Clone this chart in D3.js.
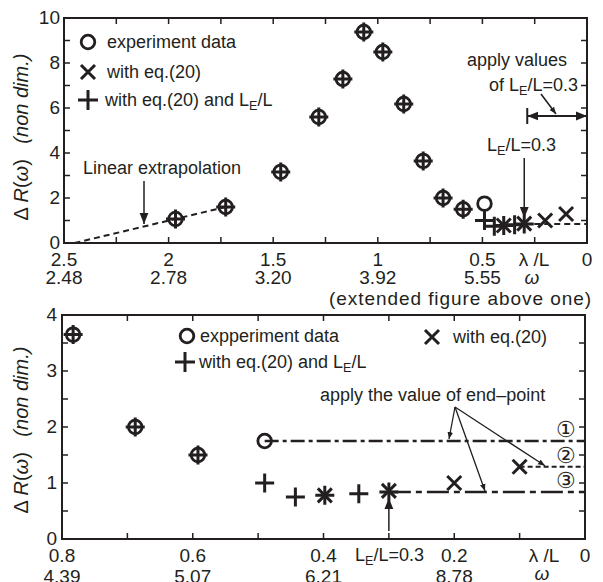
<!DOCTYPE html>
<html>
<head>
<meta charset="utf-8">
<script src="https://cdn.jsdelivr.net/npm/d3@7"></script>
<style>
body { margin: 0; background: #fff; }
svg text { font-family: "Liberation Sans", Arial, sans-serif; fill: #231f20; }
</style>
</head>
<body>
<svg id="chart" width="603" height="582"></svg>
<script>
// experiment data (circles)
var expLambda = [1.967, 1.727, 1.464, 1.282, 1.167, 1.067, 0.976, 0.876, 0.783, 0.688, 0.592, 0.49];
var expDR     = [1.07, 1.6, 3.16, 5.6, 7.29, 9.38, 8.49, 6.18, 3.65, 2.0, 1.5, 1.75];
// with eq.(20) and LE/L (plus)
var plusLambda = [1.967, 1.727, 1.464, 1.282, 1.167, 1.067, 0.976, 0.876, 0.783, 0.688, 0.592, 0.49, 0.443, 0.398, 0.346, 0.30];
var plusDR     = [1.07, 1.6, 3.16, 5.6, 7.29, 9.38, 8.49, 6.18, 3.65, 2.0, 1.5, 1.0, 0.75, 0.78, 0.81, 0.84];
// with eq.(20) (cross)
var crossLambda = [0.398, 0.30, 0.2, 0.1];
var crossDR     = [0.78, 0.86, 1.0, 1.29];
// linear extrapolation
var extrapLambda = [2.45, 1.727];
var extrapDR     = [0, 1.6];
// end-point lines in the lower panel
var endFrom  = [0.49, 0.1, 0.30];
var endValue = [1.75, 1.29, 0.84];
var endLabel = ["\u2460", "\u2461", "\u2462"];

// tick labels
var topLambdaTicks = [2.5, 2, 1.5, 1, 0.5, 0];
var topOmegaLabels = ["2.48", "2.78", "3.20", "3.92", "5.55"];
var botLambdaTicks = [0.8, 0.6, 0.4, 0.2, 0];
var botOmegaLabels = ["4.39", "5.07", "6.21", "8.78"];

var svg = d3.select("#chart");
var ink = "#231f20";

var defs = svg.append("defs");
defs.append("marker")
    .attr("id", "arrow")
    .attr("viewBox", "0 0 10 10")
    .attr("refX", 10).attr("refY", 5)
    .attr("markerWidth", 7).attr("markerHeight", 7)
    .attr("markerUnits", "userSpaceOnUse")
    .attr("orient", "auto-start-reverse")
    .append("path")
    .attr("d", "M0,1 L10,5 L0,9 Z")
    .attr("fill", ink);
defs.append("marker")
    .attr("id", "arrowBig")
    .attr("viewBox", "0 0 10 10")
    .attr("refX", 10).attr("refY", 5)
    .attr("markerWidth", 11).attr("markerHeight", 11)
    .attr("markerUnits", "userSpaceOnUse")
    .attr("orient", "auto-start-reverse")
    .append("path")
    .attr("d", "M0,1 L10,5 L0,9 Z")
    .attr("fill", ink);

function zip(xs, ys) {
    return xs.map(function(d, i) { return [d, ys[i]]; });
}

function drawFrame(g, x, y, xMinor, yMinor) {
    var r = x.range(), h = y.range();
    g.append("rect")
        .attr("x", r[0]).attr("y", h[1])
        .attr("width", r[1] - r[0]).attr("height", h[0] - h[1])
        .attr("fill", "none").attr("stroke", ink).attr("stroke-width", 2);
    var tl = 6;
    xMinor.forEach(function(v) {
        g.append("line").attr("x1", x(v)).attr("x2", x(v)).attr("y1", h[0]).attr("y2", h[0] - tl)
            .attr("stroke", ink).attr("stroke-width", 1.5);
        g.append("line").attr("x1", x(v)).attr("x2", x(v)).attr("y1", h[1]).attr("y2", h[1] + tl)
            .attr("stroke", ink).attr("stroke-width", 1.5);
    });
    yMinor.forEach(function(v) {
        g.append("line").attr("x1", r[0]).attr("x2", r[0] + tl).attr("y1", y(v)).attr("y2", y(v))
            .attr("stroke", ink).attr("stroke-width", 1.5);
        g.append("line").attr("x1", r[1]).attr("x2", r[1] - tl).attr("y1", y(v)).attr("y2", y(v))
            .attr("stroke", ink).attr("stroke-width", 1.5);
    });
}

function drawMarkers(g, x, y, maxLambda) {
    var circ = zip(expLambda, expDR).filter(function(d) { return d[0] <= maxLambda; });
    var plus = zip(plusLambda, plusDR).filter(function(d) { return d[0] <= maxLambda; });
    var cross = zip(crossLambda, crossDR).filter(function(d) { return d[0] <= maxLambda; });

    g.selectAll(".circ").data(circ).enter().append("circle")
        .attr("cx", function(d) { return x(d[0]); })
        .attr("cy", function(d) { return y(d[1]); })
        .attr("r", 6.8)
        .attr("fill", "none").attr("stroke", ink).attr("stroke-width", 2.8);

    g.selectAll(".plus").data(plus).enter().append("path")
        .attr("transform", function(d) { return "translate(" + x(d[0]) + "," + y(d[1]) + ")"; })
        .attr("d", "M-9.5,0H9.5M0,-9.5V9.5")
        .attr("stroke", ink).attr("stroke-width", 3);

    g.selectAll(".cross").data(cross).enter().append("path")
        .attr("transform", function(d) { return "translate(" + x(d[0]) + "," + y(d[1]) + ")"; })
        .attr("d", "M-7,-7L7,7M-7,7L7,-7")
        .attr("stroke", ink).attr("stroke-width", 3);
}

function subText(sel, pre, sub, post, size) {
    sel.append("tspan").text(pre);
    sel.append("tspan").attr("font-size", size * 0.7).attr("dy", 4).text(sub);
    sel.append("tspan").attr("dy", -4).text(post);
}

function yLabel(g, cx, cy, size) {
    var t = g.append("text")
        .attr("transform", "translate(" + cx + "," + cy + ") rotate(-90)")
        .attr("text-anchor", "middle")
        .attr("font-size", size);
    t.append("tspan").text("\u0394 ");
    t.append("tspan").attr("font-style", "italic").text("R");
    t.append("tspan").text("(");
    t.append("tspan").attr("font-style", "italic").text("\u03c9");
    t.append("tspan").text(")\u2002 ");
    t.append("tspan").attr("font-style", "italic").text("(non dim.)");
}

var fs = 18;

// ---------------- top panel ----------------
var xTop = d3.scaleLinear().domain([2.5, 0]).range([64, 587]);
var yTop = d3.scaleLinear().domain([0, 10]).range([243, 18]);
var gTop = svg.append("g");

drawFrame(gTop, xTop, yTop, d3.range(0, 2.5001, 0.25), d3.range(0, 10.001, 1));

gTop.selectAll(".ylab").data([0, 2, 4, 6, 8, 10]).enter().append("text")
    .attr("x", 60).attr("y", function(d) { return yTop(d) + 6; })
    .attr("text-anchor", "end").attr("font-size", fs + 1)
    .text(function(d) { return d; });

gTop.selectAll(".xlab").data(topLambdaTicks).enter().append("text")
    .attr("x", function(d) { return xTop(d); }).attr("y", 266)
    .attr("text-anchor", "middle").attr("font-size", fs + 1)
    .text(function(d) { return d; });
gTop.selectAll(".wlab").data(topOmegaLabels).enter().append("text")
    .attr("x", function(d, i) { return xTop(topLambdaTicks[i]); }).attr("y", 284)
    .attr("text-anchor", "middle").attr("font-size", fs + 1)
    .text(function(d) { return d; });
gTop.append("text").attr("x", 534).attr("y", 266).attr("text-anchor", "middle")
    .attr("font-size", fs + 1).text("\u03bb /L");
gTop.append("text").attr("x", 532).attr("y", 284).attr("text-anchor", "middle")
    .attr("font-size", fs + 1).attr("font-style", "italic").text("\u03c9");
gTop.append("text").attr("x", 591).attr("y", 305).attr("text-anchor", "end")
    .attr("font-size", fs + 1).attr("textLength", 262).attr("lengthAdjust", "spacing")
    .text("(extended figure above one)");

yLabel(gTop, 28, 137, 20);

// linear extrapolation
gTop.append("path")
    .datum(zip(extrapLambda, extrapDR))
    .attr("d", d3.line().x(function(d) { return xTop(d[0]); }).y(function(d) { return yTop(d[1]); }))
    .attr("fill", "none").attr("stroke", ink).attr("stroke-width", 2).attr("stroke-dasharray", "6,4");
gTop.append("text").attr("x", 83).attr("y", 174).attr("font-size", fs).text("Linear extrapolation");
gTop.append("line").attr("x1", 144).attr("x2", 144).attr("y1", 181).attr("y2", 224)
    .attr("stroke", ink).attr("stroke-width", 1.5).attr("marker-end", "url(#arrowBig)");

// value of LE/L=0.3 applied to the right
gTop.append("line")
    .attr("x1", xTop(endFrom[2])).attr("x2", xTop(0))
    .attr("y1", yTop(endValue[2])).attr("y2", yTop(endValue[2]))
    .attr("stroke", ink).attr("stroke-width", 2).attr("stroke-dasharray", "6,4");

drawMarkers(gTop, xTop, yTop, 3);

// legend
gTop.append("circle").attr("cx", 88).attr("cy", 42).attr("r", 6.8)
    .attr("fill", "none").attr("stroke", ink).attr("stroke-width", 2.8);
gTop.append("path").attr("transform", "translate(88,72)").attr("d", "M-7,-7L7,7M-7,7L7,-7")
    .attr("stroke", ink).attr("stroke-width", 3);
gTop.append("path").attr("transform", "translate(88,100)").attr("d", "M-10,0H10M0,-10V10")
    .attr("stroke", ink).attr("stroke-width", 3);
gTop.append("text").attr("x", 107).attr("y", 48).attr("font-size", fs).text("experiment data");
gTop.append("text").attr("x", 107).attr("y", 78).attr("font-size", fs).text("with eq.(20)");
subText(gTop.append("text").attr("x", 105).attr("y", 106).attr("font-size", fs),
    "with eq.(20) and L", "E", "/L", fs);

// "apply values of LE/L=0.3"
gTop.append("text").attr("x", 567).attr("y", 66).attr("text-anchor", "end").attr("font-size", fs).text("apply values");
subText(gTop.append("text").attr("x", 578).attr("y", 91).attr("text-anchor", "end").attr("font-size", fs),
    "of L", "E", "/L=0.3", fs);
gTop.append("line").attr("x1", xTop(endFrom[2]) + 3).attr("x2", xTop(0))
    .attr("y1", 116).attr("y2", 116)
    .attr("stroke", ink).attr("stroke-width", 2)
    .attr("marker-start", "url(#arrowBig)").attr("marker-end", "url(#arrowBig)");
gTop.append("line").attr("x1", xTop(endFrom[2]) + 3).attr("x2", xTop(endFrom[2]) + 3)
    .attr("y1", 108).attr("y2", 124).attr("stroke", ink).attr("stroke-width", 2);
gTop.append("line").attr("x1", 541).attr("y1", 94).attr("x2", 556).attr("y2", 114)
    .attr("stroke", ink).attr("stroke-width", 1.5).attr("marker-end", "url(#arrow)");

subText(gTop.append("text").attr("x", 487).attr("y", 151).attr("font-size", fs),
    "L", "E", "/L=0.3", fs);
gTop.append("line").attr("x1", xTop(0.3)).attr("x2", xTop(0.3)).attr("y1", 158).attr("y2", yTop(0.84) - 6)
    .attr("stroke", ink).attr("stroke-width", 1.5).attr("marker-end", "url(#arrowBig)");

// ---------------- bottom panel ----------------
var xBot = d3.scaleLinear().domain([0.8, 0]).range([62, 585]);
var yBot = d3.scaleLinear().domain([0, 4]).range([539, 315]);
var gBot = svg.append("g");

drawFrame(gBot, xBot, yBot, d3.range(0, 0.8001, 0.1), d3.range(0, 4.001, 0.5));

gBot.selectAll(".ylab").data([0, 1, 2, 3, 4]).enter().append("text")
    .attr("x", 57).attr("y", function(d) { return yBot(d) + 6; })
    .attr("text-anchor", "end").attr("font-size", fs + 1)
    .text(function(d) { return d; });

gBot.selectAll(".xlab").data(botLambdaTicks).enter().append("text")
    .attr("x", function(d) { return xBot(d); }).attr("y", 562)
    .attr("text-anchor", "middle").attr("font-size", fs + 1)
    .text(function(d) { return d; });
gBot.selectAll(".wlab").data(botOmegaLabels).enter().append("text")
    .attr("x", function(d, i) { return xBot(botLambdaTicks[i]); }).attr("y", 583)
    .attr("text-anchor", "middle").attr("font-size", fs + 1)
    .text(function(d) { return d; });
gBot.append("text").attr("x", 544).attr("y", 562).attr("text-anchor", "middle")
    .attr("font-size", fs + 1).text("\u03bb /L");
gBot.append("text").attr("x", 542).attr("y", 580).attr("text-anchor", "middle")
    .attr("font-size", fs + 1).attr("font-style", "italic").text("\u03c9");
subText(gBot.append("text").attr("x", 355).attr("y", 561).attr("font-size", fs),
    "L", "E", "/L=0.3", fs);

yLabel(gBot, 28, 430, 20);

// end-point lines
var endDash = ["14,4,4,4", "5,3", "22,5,6,5"];
var endWidth = [2.5, 2, 2.5];
endFrom.forEach(function(f, i) {
    gBot.append("line")
        .attr("x1", xBot(f)).attr("x2", xBot(0))
        .attr("y1", yBot(endValue[i])).attr("y2", yBot(endValue[i]))
        .attr("stroke", ink).attr("stroke-width", endWidth[i]).attr("stroke-dasharray", endDash[i]);
    gBot.append("text").attr("x", 566).attr("y", yBot(endValue[i]) - 4)
        .attr("text-anchor", "middle").attr("font-size", 22)
        .attr("font-family", "DejaVu Sans").text(endLabel[i]);
});

drawMarkers(gBot, xBot, yBot, 0.8);

// legend
gBot.append("circle").attr("cx", 187).attr("cy", 336).attr("r", 6.8)
    .attr("fill", "none").attr("stroke", ink).attr("stroke-width", 2.8);
gBot.append("text").attr("x", 200).attr("y", 342).attr("font-size", fs).text("expperiment data");
gBot.append("path").attr("transform", "translate(185,362)").attr("d", "M-10,0H10M0,-10V10")
    .attr("stroke", ink).attr("stroke-width", 3);
subText(gBot.append("text").attr("x", 199).attr("y", 368).attr("font-size", fs),
    "with eq.(20) and L", "E", "/L", fs);
gBot.append("path").attr("transform", "translate(432,337)").attr("d", "M-7,-7L7,7M-7,7L7,-7")
    .attr("stroke", ink).attr("stroke-width", 3);
gBot.append("text").attr("x", 453).attr("y", 343).attr("font-size", fs).text("with eq.(20)");

// "apply the value of end-point"
gBot.append("text").attr("x", 320).attr("y", 401).attr("font-size", fs).text("apply the value of end\u2013point");
var fromPt = [455, 407];
[[449, yBot(endValue[0]) - 2], [485, yBot(endValue[2]) - 1], [545, yBot(endValue[1]) - 1]].forEach(function(p) {
    gBot.append("line").attr("x1", fromPt[0]).attr("y1", fromPt[1]).attr("x2", p[0]).attr("y2", p[1])
        .attr("stroke", ink).attr("stroke-width", 1.3).attr("marker-end", "url(#arrow)");
});

// LE/L=0.3 arrow up to the asterisk
gBot.append("line").attr("x1", xBot(0.3)).attr("x2", xBot(0.3)).attr("y1", 531).attr("y2", yBot(0.84) + 6)
    .attr("stroke", ink).attr("stroke-width", 1.5).attr("marker-end", "url(#arrowBig)");
</script>
</body>
</html>
